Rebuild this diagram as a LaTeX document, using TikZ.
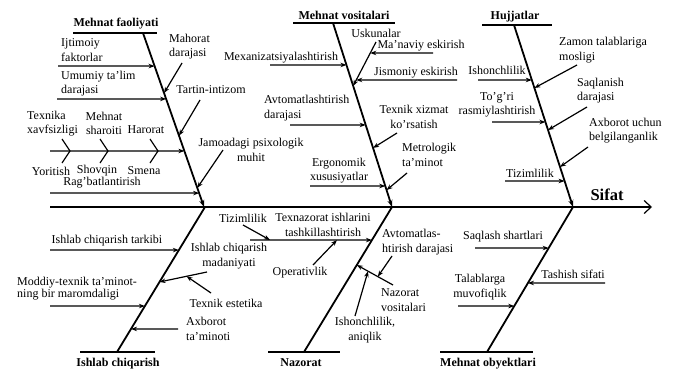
\documentclass[tikz,border=0pt]{standalone}
\usepackage{fontspec}
\setmainfont{Liberation Serif}
\usetikzlibrary{arrows.meta,calc}
\tikzset{
  bone/.style={line width=1.8pt},
  ul/.style={line width=1.4pt},
  br/.style={line width=1.2pt,-{Stealth[length=6pt,width=4.5pt]}},
  twig/.style={line width=1.2pt},
  lbl/.style={font=\fontsize{12}{14.5}\selectfont,inner sep=0pt},
  ttl/.style={font=\bfseries\fontsize{12}{14}\selectfont,inner sep=0pt},
}
\begin{document}
\begin{tikzpicture}[x=1pt,y=-1pt]
\path[use as bounding box,fill=white] (0,0) rectangle (676,372);

% ---------- spine ----------
\coordinate (S0) at (50,207);
\coordinate (S1) at (652,207);
\draw[bone,-{Straight Barb[length=7pt,width=13pt,line width=1.2pt]}] (S0) -- (S1);
\node[font=\bfseries\fontsize{16.5}{18}\selectfont,inner sep=0pt] (sifat) at (607,195) {Sifat};

% ---------- bone 1: Mehnat faoliyati ----------
\coordinate (A1t) at (143,33);
\coordinate (A1b) at (204,207);
\coordinate (U1l) at (73,33);
\coordinate (U1r) at (157,33);
\draw[ul] (U1l) -- (U1r);
\draw[bone,-{Stealth[length=7pt,width=5pt]}] (A1t) -- (A1b);
\node[ttl] (t1) at (116,24) {Mehnat faoliyati};

\node[lbl,anchor=west,align=left] (n11) at (61,50) {Ijtimoiy\\faktorlar};
\coordinate (a11s) at (58,66);
\coordinate (a11e) at ($(A1t)!0.19!(A1b)$);
\draw[br] (a11s) -- (a11e);

\node[lbl,anchor=west,align=left] (n12) at (61,83.5) {Umumiy ta’lim\\darajasi};
\coordinate (a12s) at (57,99);
\coordinate (a12e) at ($(A1t)!0.379!(A1b)$);
\draw[br] (a12s) -- (a12e);

\node[lbl,anchor=west,align=left] (n13) at (169,46.5) {Mahorat\\darajasi};
\coordinate (a13s) at (182,63);
\coordinate (a13e) at ($(A1t)!0.345!(A1b)$);
\draw[br] (a13s) -- (a13e);

\node[lbl] (n14) at (211,90) {Tartin-intizom};
\coordinate (a14s) at (200,100);
\coordinate (a14e) at ($(A1t)!0.59!(A1b)$);
\draw[br] (a14s) -- (a14e);

\coordinate (a15s) at (50,151);
\coordinate (a15e) at ($(A1t)!0.678!(A1b)$);
\draw[br] (a15s) -- (a15e);
\coordinate (c1) at (70,151);
\coordinate (c2) at (108,151);
\coordinate (c3) at (158,151);
\draw[twig] (c1) ++(-8,-12) -- (c1) -- ++(-8,12);
\draw[twig] (c2) ++(-8,-12) -- (c2) -- ++(-8,12);
\draw[twig] (c3) ++(-8,-12) -- (c3) -- ++(-8,12);
\node[lbl,anchor=west,align=left] (n15) at (27,123.5) {Texnika\\xavfsizligi};
\node[lbl,align=center] (n16) at (104,123.5) {Mehnat\\sharoiti};
\node[lbl] (n17) at (146,130) {Harorat};
\node[lbl] (n18) at (51,171) {Yoritish};
\node[lbl] (n19) at (97,171) {Shovqin};
\node[lbl] (n110) at (144,171) {Smena};
\node[lbl] (n111) at (102,183) {Rag’batlantirish};

\node[lbl,align=center] (n112) at (251,150) {Jamoadagi psixologik\\muhit};
\coordinate (a16s) at (223,150);
\coordinate (a16e) at ($(A1t)!0.89!(A1b)$);
\draw[br] (a16s) -- (a16e);

\coordinate (a17s) at (50,193);
\coordinate (a17e) at ($(A1t)!0.92!(A1b)$);
\draw[br] (a17s) -- (a17e);

% ---------- bone 2: Mehnat vositalari ----------
\coordinate (A2t) at (333,23);
\coordinate (A2b) at (392,207);
\coordinate (U2l) at (293,23);
\coordinate (U2r) at (395,23);
\draw[ul] (U2l) -- (U2r);
\draw[bone,-{Stealth[length=7pt,width=5pt]}] (A2t) -- (A2b);
\node[ttl] (t2) at (344,15) {Mehnat vositalari};

\node[lbl] (n21) at (376,33) {Uskunalar};
\coordinate (u2s) at (376,42);
\coordinate (u2e) at ($(A2t)!0.342!(A2b)$);
\draw[br] (u2s) -- (u2e);
\node[lbl] (n22) at (421,46) {Ma’naviy eskirish};
\coordinate (a22s) at (433,53);
\coordinate (a22e) at ($(u2s)!0.25!(u2e)$);
\draw[br] (a22s) -- (a22e);
\node[lbl] (n23) at (416,73) {Jismoniy eskirish};
\coordinate (a23s) at (457,80);
\coordinate (a23e) at ($(u2s)!0.864!(u2e)$);
\draw[br] (a23s) -- (a23e);

\node[lbl] (n24) at (281,58) {Mexanizatsiyalashtirish};
\coordinate (a24s) at (270,65);
\coordinate (a24e) at ($(A2t)!0.228!(A2b)$);
\draw[br] (a24s) -- (a24e);

\node[lbl,anchor=west,align=left] (n25) at (264,108) {Avtomatlashtirish\\darajasi};
\coordinate (a25s) at (290,125);
\coordinate (a25e) at ($(A2t)!0.554!(A2b)$);
\draw[br] (a25s) -- (a25e);

\node[lbl,align=center] (n26) at (414,117) {Texnik xizmat\\ko’rsatish};
\coordinate (a26s) at (397,133);
\coordinate (a26e) at ($(A2t)!0.679!(A2b)$);
\draw[br] (a26s) -- (a26e);

\node[lbl,anchor=west,align=left] (n27) at (402,155) {Metrologik\\ta’minot};
\coordinate (a27s) at (407,173);
\coordinate (a27e) at ($(A2t)!0.908!(A2b)$);
\draw[br] (a27s) -- (a27e);

\node[lbl,align=center] (n28) at (339,170.5) {Ergonomik\\xususiyatlar};
\coordinate (a28s) at (310,186);
\coordinate (a28e) at ($(A2t)!0.886!(A2b)$);
\draw[br] (a28s) -- (a28e);

% ---------- bone 3: Hujjatlar ----------
\coordinate (A3t) at (514,25);
\coordinate (A3b) at (573,207);
\coordinate (U3l) at (482,25);
\coordinate (U3r) at (552,25);
\draw[ul] (U3l) -- (U3r);
\draw[bone,-{Stealth[length=7pt,width=5pt]}] (A3t) -- (A3b);
\node[ttl] (t3) at (515,17) {Hujjatlar};

\node[lbl,anchor=west,align=left] (n31) at (559,50) {Zamon talablariga\\mosligi};
\coordinate (a31s) at (577,65);
\coordinate (a31e) at ($(A3t)!0.346!(A3b)$);
\draw[br] (a31s) -- (a31e);

\node[lbl] (n32) at (497,70) {Ishonchlilik};
\coordinate (a32s) at (478,80);
\coordinate (a32e) at ($(A3t)!0.302!(A3b)$);
\draw[br] (a32s) -- (a32e);

\node[lbl,anchor=west,align=left] (n33) at (577,90.5) {Saqlanish\\darajasi};
\coordinate (a33s) at (587,107);
\coordinate (a33e) at ($(A3t)!0.577!(A3b)$);
\draw[br] (a33s) -- (a33e);

\node[lbl,align=center] (n34) at (497,105) {To’g’ri\\rasmiylashtirish};
\coordinate (a34s) at (492,122);
\coordinate (a34e) at ($(A3t)!0.533!(A3b)$);
\draw[br] (a34s) -- (a34e);

\node[lbl,anchor=west,align=left] (n35) at (589,130.5) {Axborot uchun\\belgilanganlik};
\coordinate (a35s) at (588,147);
\coordinate (a35e) at ($(A3t)!0.78!(A3b)$);
\draw[br] (a35s) -- (a35e);

\node[lbl] (n36) at (530,173) {Tizimlilik};
\coordinate (a36s) at (505,181);
\coordinate (a36e) at ($(A3t)!0.857!(A3b)$);
\draw[br] (a36s) -- (a36e);

% ---------- bone 4: Ishlab chiqarish ----------
\coordinate (A4t) at (205,207);
\coordinate (A4b) at (117,352);
\coordinate (U4l) at (80,352);
\coordinate (U4r) at (155,352);
\draw[ul] (U4l) -- (U4r);
\draw[bone] (A4t) -- (A4b);
\node[ttl] (t4) at (118,364) {Ishlab chiqarish};

\node[lbl] (n41) at (107,241) {Ishlab chiqarish tarkibi};
\coordinate (a41s) at (50,250);
\coordinate (a41e) at ($(A4t)!0.297!(A4b)$);
\draw[br] (a41s) -- (a41e);

\node[lbl,align=center] (n42) at (229,256) {Ishlab chiqarish\\madaniyati};
\coordinate (a42s) at (207,272);
\coordinate (a42e) at ($(A4t)!0.517!(A4b)$);
\draw[br] (a42s) -- (a42e);
\node[lbl] (n43) at (226,303) {Texnik estetika};
\coordinate (a43s) at (211,293);
\coordinate (a43e) at ($(a42s)!0.43!(a42e)$);
\draw[br] (a43s) -- (a43e);

\node[lbl,anchor=west,align=left] (n44) at (17,289) {Moddiy-texnik ta’minot-\\[-2.5pt]ning bir maromdaligi};
\coordinate (a44s) at (50,306);
\coordinate (a44e) at ($(A4t)!0.683!(A4b)$);
\draw[br] (a44s) -- (a44e);

\node[lbl,anchor=west,align=left] (n45) at (186,329) {Axborot\\ta’minoti};
\coordinate (a45s) at (178,329);
\coordinate (a45e) at ($(A4t)!0.841!(A4b)$);
\draw[br] (a45s) -- (a45e);

% ---------- bone 5: Nazorat ----------
\coordinate (A5t) at (392,207);
\coordinate (A5b) at (304,352);
\coordinate (U5l) at (268,352);
\coordinate (U5r) at (340,352);
\draw[ul] (U5l) -- (U5r);
\draw[bone] (A5t) -- (A5b);
\node[ttl] (t5) at (301,363) {Nazorat};

\node[lbl,align=center] (n51) at (323,225) {Texnazorat ishlarini\\tashkillashtirish};
\coordinate (a51s) at (250,240);
\coordinate (a51e) at ($(A5t)!0.228!(A5b)$);
\draw[br] (a51s) -- (a51e);

\node[lbl] (n52) at (243,218) {Tizimlilik};
\coordinate (a52s) at (243,225);
\coordinate (a52e) at ($(a51s)!0.164!(a51e)$);
\draw[br] (a52s) -- (a52e);

\node[lbl] (n53) at (300,273) {Operativlik};
\coordinate (a53s) at (313,265);
\coordinate (a53e) at ($(a51s)!0.713!(a51e)$);
\draw[br] (a53s) -- (a53e);

\node[lbl,anchor=west,align=left] (n54) at (381,300) {Nazorat\\vositalari};
\coordinate (a54s) at (393,285);
\coordinate (a54e) at ($(A5t)!0.4!(A5b)$);
\draw[br] (a54s) -- (a54e);

\node[lbl,anchor=west,align=left] (n55) at (382,242) {Avtomatlas-\\htirish darajasi};
\coordinate (a55s) at (392,256);
\coordinate (a55e) at ($(a54e)!0.58!(a54s)$);
\draw[br] (a55s) -- (a55e);

\node[lbl,align=center] (n56) at (365,330) {Ishonchlilik,\\aniqlik};
\coordinate (a56s) at (355,316);
\coordinate (a56e) at ($(a54e)!0.31!(a54s)$);
\draw[br] (a56s) -- (a56e);

% ---------- bone 6: Mehnat obyektlari ----------
\coordinate (A6t) at (573,207);
\coordinate (A6b) at (487,352);
\coordinate (U6l) at (440,352);
\coordinate (U6r) at (533,352);
\draw[ul] (U6l) -- (U6r);
\draw[bone] (A6t) -- (A6b);
\node[ttl] (t6) at (488,364) {Mehnat obyektlari};

\node[lbl] (n61) at (503,237) {Saqlash shartlari};
\coordinate (a61s) at (475,248);
\coordinate (a61e) at ($(A6t)!0.283!(A6b)$);
\draw[br] (a61s) -- (a61e);

\node[lbl] (n62) at (573,274) {Tashish sifati};
\coordinate (a62s) at (605,283);
\coordinate (a62e) at ($(A6t)!0.524!(A6b)$);
\draw[br] (a62s) -- (a62e);

\node[lbl,align=center] (n63) at (480,287) {Talablarga\\muvofiqlik};
\coordinate (a63s) at (458,306);
\coordinate (a63e) at ($(A6t)!0.683!(A6b)$);
\draw[br] (a63s) -- (a63e);

\end{tikzpicture}
\end{document}
